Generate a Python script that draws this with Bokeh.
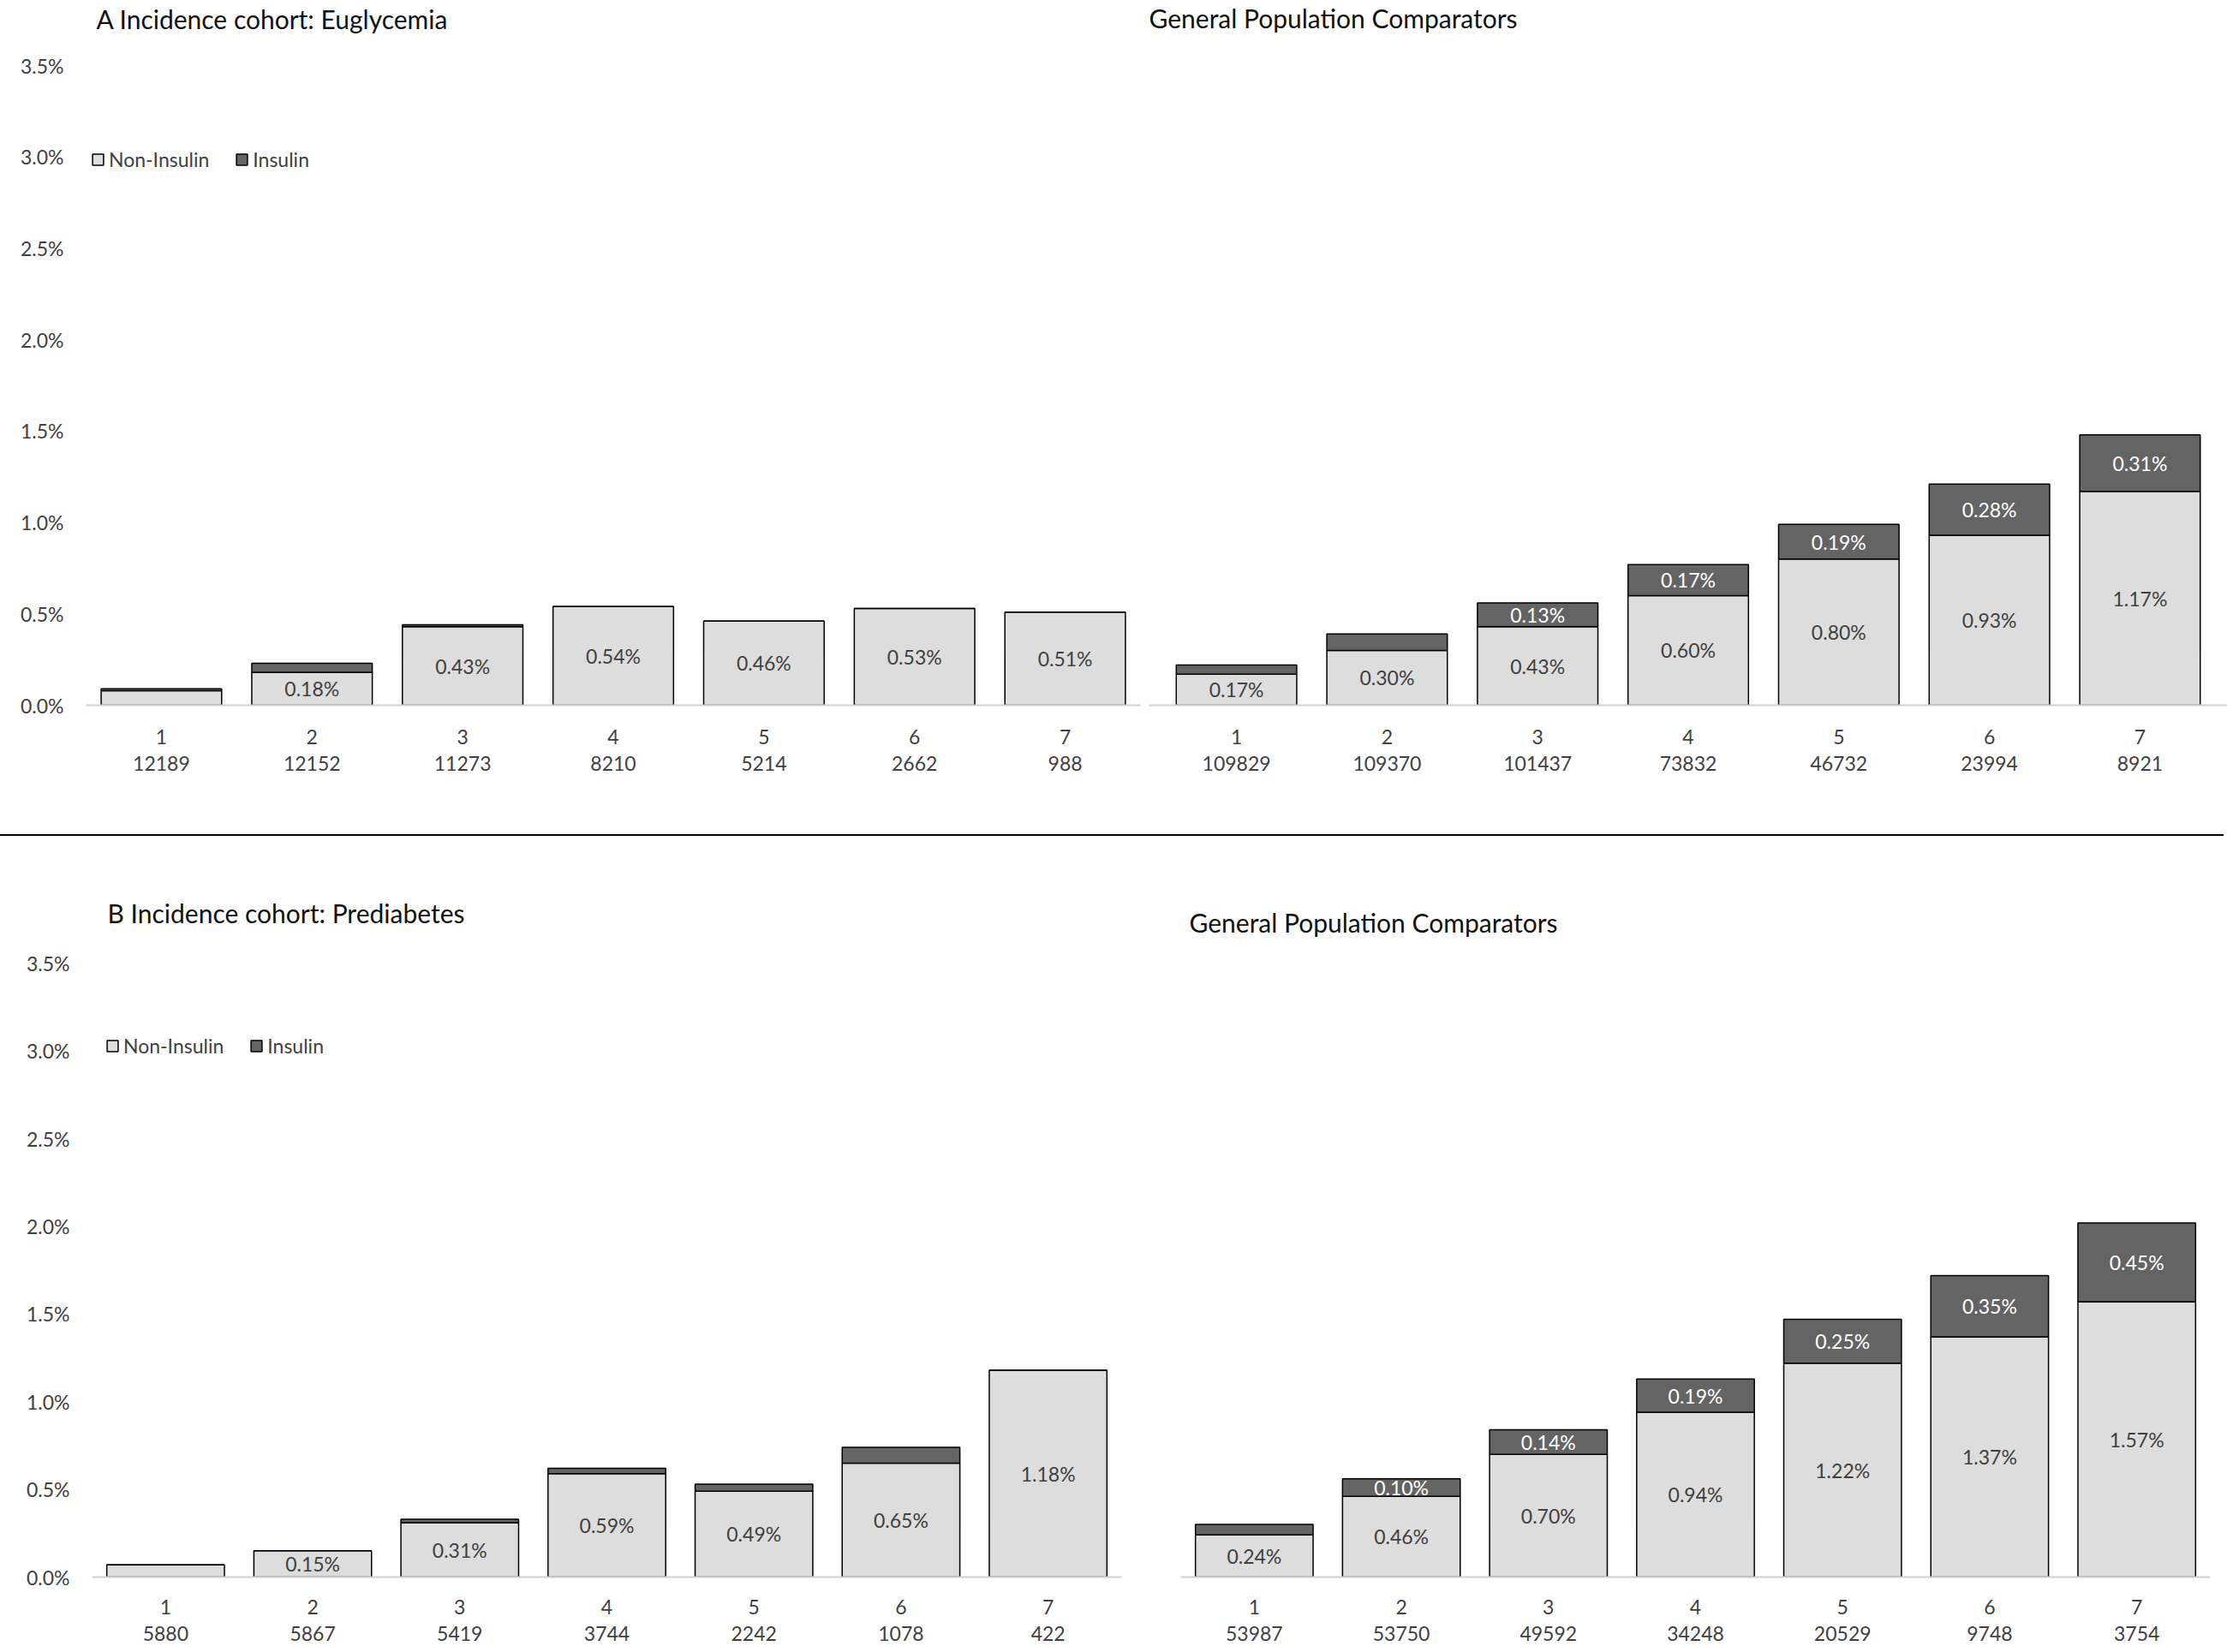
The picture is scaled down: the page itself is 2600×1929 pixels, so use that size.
from bokeh.plotting import figure
from bokeh.models import (FactorRange, Range1d, FixedTicker, PrintfTickFormatter, CategoricalAxis,
                          ColumnDataSource, Legend, LegendItem, Div, Label)
from bokeh.layouts import column, row
from bokeh.embed import file_html
from bokeh.resources import INLINE
from bokeh.core.properties import value

# ---------------- data ----------------
categories = ["1", "2", "3", "4", "5", "6", "7"]
y_ticks = [0.0, 0.5, 1.0, 1.5, 2.0, 2.5, 3.0, 3.5]
series_labels = ["Non-Insulin", "Insulin"]

# Panel A: incidence cohort, euglycemia
a_cohort_title = "A Incidence cohort: Euglycemia"
a_cohort_n = [12189, 12152, 11273, 8210, 5214, 2662, 988]
a_cohort_noninsulin = [0.08, 0.18, 0.43, 0.54, 0.46, 0.53, 0.51]
a_cohort_insulin = [0.01, 0.05, 0.01, 0.0, 0.0, 0.0, 0.0]

a_comp_title = "General Population Comparators"
a_comp_n = [109829, 109370, 101437, 73832, 46732, 23994, 8921]
a_comp_noninsulin = [0.17, 0.30, 0.43, 0.60, 0.80, 0.93, 1.17]
a_comp_insulin = [0.05, 0.09, 0.13, 0.17, 0.19, 0.28, 0.31]

# Panel B: incidence cohort, prediabetes
b_cohort_title = "B Incidence cohort: Prediabetes"
b_cohort_n = [5880, 5867, 5419, 3744, 2242, 1078, 422]
b_cohort_noninsulin = [0.07, 0.15, 0.31, 0.59, 0.49, 0.65, 1.18]
b_cohort_insulin = [0.0, 0.0, 0.02, 0.03, 0.04, 0.09, 0.0]

b_comp_title = "General Population Comparators"
b_comp_n = [53987, 53750, 49592, 34248, 20529, 9748, 3754]
b_comp_noninsulin = [0.24, 0.46, 0.70, 0.94, 1.22, 1.37, 1.57]
b_comp_insulin = [0.06, 0.10, 0.14, 0.19, 0.25, 0.35, 0.45]

# ---------------- style ----------------
FONT = "Lato"
LIGHT = "#DDDDDD"
DARK = "#646464"
TXT = "#404040"
FS = "23px"
LABEL_MIN = 0.095


def make_panel(title, nonins, ins, n, width, height, bl, br, bb, ymax,
               show_y, title_xy, std1, std2, pad=0.0, legend_loc=None):
    p = figure(x_range=FactorRange(factors=categories, range_padding=pad),
               y_range=Range1d(0, ymax), width=width, height=height,
               output_backend="svg", toolbar_location=None,
               min_border_left=bl, min_border_right=br,
               min_border_top=0, min_border_bottom=bb)
    p.extra_x_ranges = {"n": FactorRange(factors=[str(v) for v in n], range_padding=pad)}

    tops = [a + b for a, b in zip(nonins, ins)]
    src = ColumnDataSource(dict(
        x=categories, ni=nonins, top=tops,
        ni_mid=[v / 2 for v in nonins],
        ins_mid=[a + b / 2 for a, b in zip(nonins, ins)],
        ni_lab=[f"{v:.2f}%" if v >= LABEL_MIN else "" for v in nonins],
        ins_lab=[f"{v:.2f}%" if v >= LABEL_MIN else "" for v in ins],
    ))
    r1 = p.vbar(x="x", bottom=0, top="ni", width=0.8, source=src,
                fill_color=LIGHT, line_color="black", line_width=1.5)
    r2 = p.vbar(x="x", bottom="ni", top="top", width=0.8, source=src,
                fill_color=DARK, line_color="black", line_width=1.5)
    p.text(x="x", y="ni_mid", text="ni_lab", source=src, text_align="center",
           text_baseline="middle", text_font=value(FONT), text_font_size=FS,
           text_color=TXT)
    p.text(x="x", y="ins_mid", text="ins_lab", source=src, text_align="center",
           text_baseline="middle", text_font=value(FONT), text_font_size=FS,
           text_color="white")

    p.add_layout(Label(x=title_xy[0], y=title_xy[1], x_units="screen", y_units="screen",
                       text=title, text_font=FONT, text_font_size="30px",
                       text_baseline="middle", text_align="left", text_color="#111111"))

    p.xgrid.visible = False
    p.ygrid.visible = False
    p.outline_line_color = None

    xa = p.xaxis[0]
    xa.axis_line_color = "#D0D0D0"
    xa.axis_line_width = 2
    xa.major_tick_line_color = None
    xa.minor_tick_line_color = None
    xa.major_label_standoff = std1
    xa.major_label_text_font = FONT
    xa.major_label_text_font_size = FS
    xa.major_label_text_color = TXT

    xa2 = CategoricalAxis(x_range_name="n")
    xa2.axis_line_color = None
    xa2.major_tick_line_color = None
    xa2.minor_tick_line_color = None
    xa2.major_label_standoff = std2
    xa2.major_label_text_font = FONT
    xa2.major_label_text_font_size = FS
    xa2.major_label_text_color = TXT
    p.add_layout(xa2, "below")

    ya = p.yaxis[0]
    if show_y:
        ya.ticker = FixedTicker(ticks=y_ticks)
        ya.formatter = PrintfTickFormatter(format="%.1f%%")
        ya.axis_line_color = None
        ya.major_tick_line_color = None
        ya.minor_tick_line_color = None
        ya.major_label_standoff = 20
        ya.major_label_text_font = FONT
        ya.major_label_text_font_size = FS
        ya.major_label_text_color = TXT
    else:
        ya.visible = False

    if legend_loc is not None:
        lg = Legend(items=[LegendItem(label=series_labels[0], renderers=[r1]),
                           LegendItem(label=series_labels[1], renderers=[r2])],
                    orientation="horizontal", location=legend_loc,
                    padding=0, margin=0, spacing=30,
                    glyph_width=16, glyph_height=16, label_standoff=5,
                    label_text_font=FONT, label_text_font_size=FS,
                    label_text_color=TXT, border_line_alpha=0,
                    background_fill_alpha=0)
        p.add_layout(lg)
    return p


# frames reach to the top of each figure; scale: 213.4 px per 1% (A), 204.7 px per 1% (B)
YMAX_A = 823 / 213.4
YMAX_B = 865 / 204.7
PAD_A_RIGHT = 1259 / 1230.6 - 1

p1 = make_panel(a_cohort_title, a_cohort_noninsulin, a_cohort_insulin, a_cohort_n,
                width=1341, height=974, bl=100, br=10, bb=151, ymax=YMAX_A,
                show_y=True, title_xy=(12, 802), std1=22, std2=5, legend_loc=(6, 623))
p2 = make_panel(a_comp_title, a_comp_noninsulin, a_comp_insulin, a_comp_n,
                width=1259, height=974, bl=0, br=0, bb=151, ymax=YMAX_A,
                show_y=False, title_xy=(0, 803), std1=22, std2=5, pad=PAD_A_RIGHT)
p3 = make_panel(b_cohort_title, b_cohort_noninsulin, b_cohort_insulin, b_cohort_n,
                width=1345, height=950, bl=107, br=36, bb=85, ymax=YMAX_B,
                show_y=True, title_xy=(18, 776), std1=20, std2=5, legend_loc=(16, 606))
p4 = make_panel(b_comp_title, b_comp_noninsulin, b_comp_insulin, b_comp_n,
                width=1251, height=950, bl=33, br=16, bb=85, ymax=YMAX_B,
                show_y=False, title_xy=(10, 765), std1=20, std2=5)

sep = Div(text="", width=2596, height=2, margin=(0, 0, 0, 0),
          styles={"background-color": "black"})

layout = column(row(p1, p2), sep, row(p3, p4))

with open("out.html", "w") as f:
    f.write(file_html(layout, INLINE))
